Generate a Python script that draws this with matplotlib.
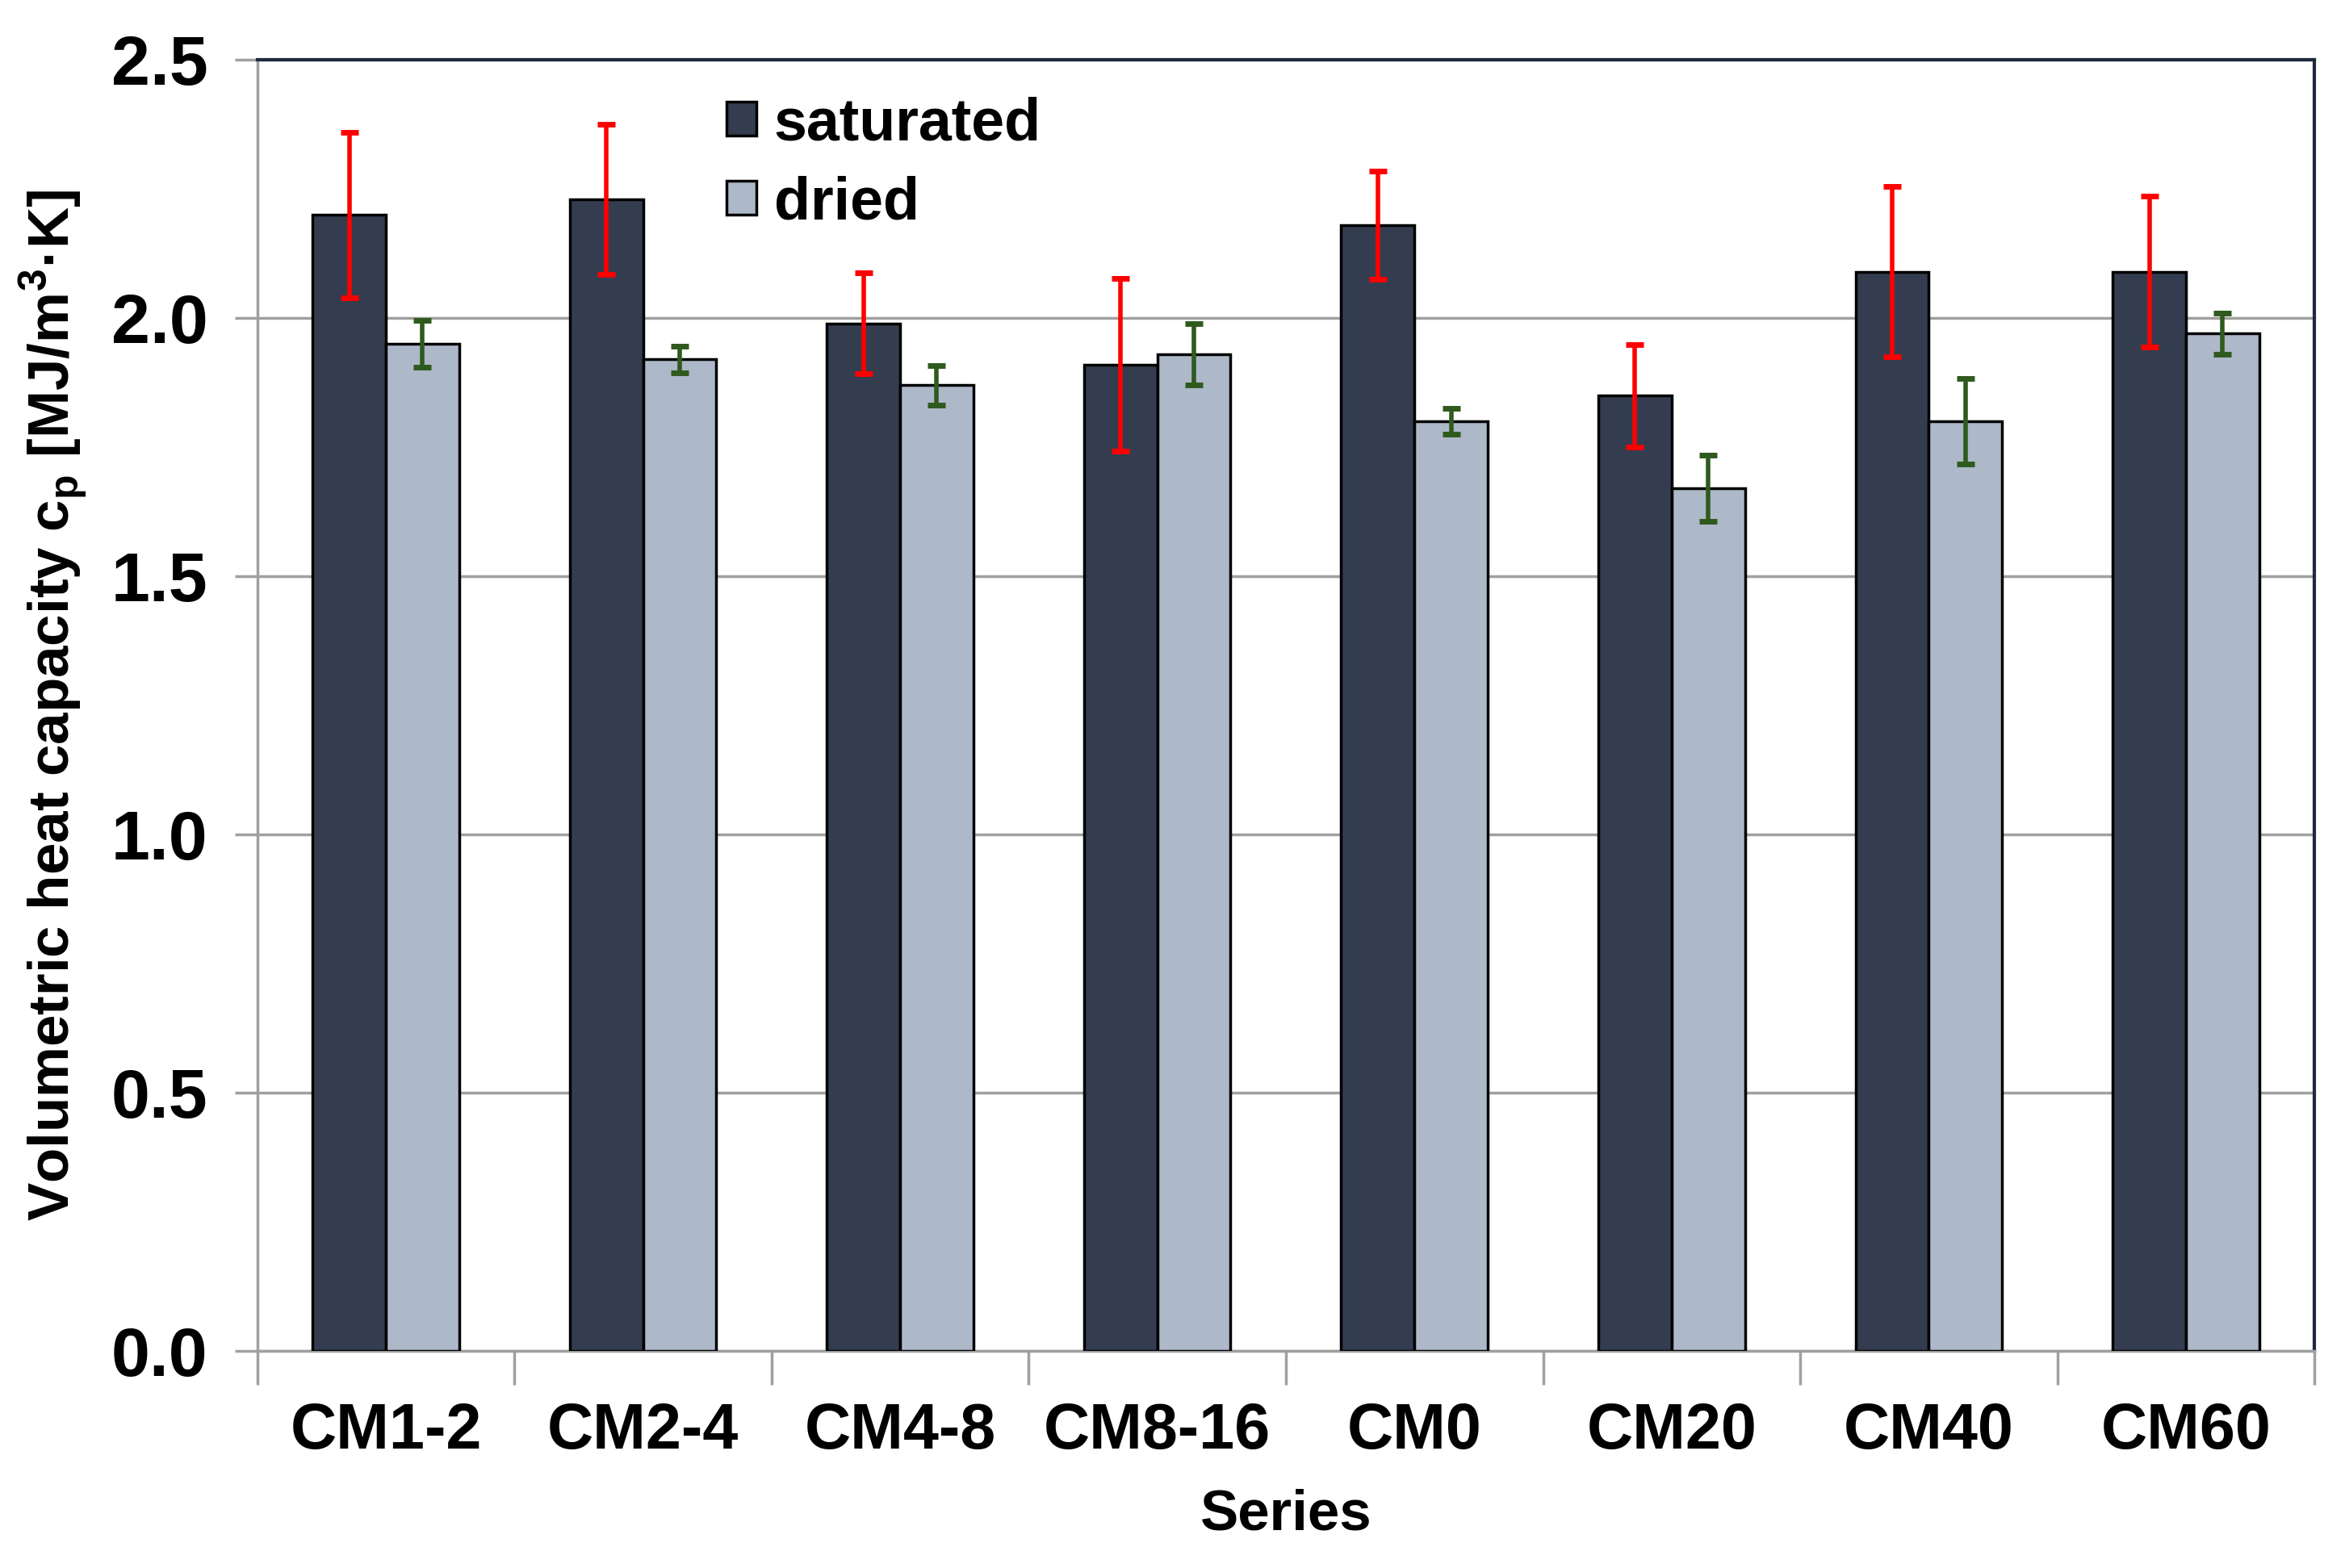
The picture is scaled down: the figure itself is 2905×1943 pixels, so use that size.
import matplotlib.pyplot as plt
import numpy as np

categories = ["CM1-2", "CM2-4", "CM4-8", "CM8-16", "CM0", "CM20", "CM40", "CM60"]
saturated = [2.20, 2.23, 1.99, 1.91, 2.18, 1.85, 2.09, 2.09]
saturated_err = [0.16, 0.145, 0.098, 0.167, 0.104, 0.099, 0.165, 0.146]
dried = [1.95, 1.92, 1.87, 1.93, 1.80, 1.67, 1.80, 1.97]
dried_err = [0.045, 0.026, 0.038, 0.06, 0.025, 0.064, 0.083, 0.04]
y_ticks = [0.0, 0.5, 1.0, 1.5, 2.0, 2.5]

plt.rcParams["font.family"] = ["Liberation Sans", "DejaVu Sans"]
plt.rcParams["font.weight"] = "bold"

SAT_COLOR = "#333d4f"
DRY_COLOR = "#adb8c9"
GRID = "#a0a0a0"

fig = plt.figure(figsize=(29.05, 19.43), dpi=100)
ax = fig.add_axes([0.1097, 0.1384, 0.8773, 0.8234])

x = np.arange(len(categories))
width = 0.285

ax.bar(x - width / 2, saturated, width, color=SAT_COLOR, edgecolor="black",
       linewidth=2.5, label="saturated", zorder=3)
ax.bar(x + width / 2, dried, width, color=DRY_COLOR, edgecolor="black",
       linewidth=2.5, label="dried", zorder=3)
ax.errorbar(x - width / 2, saturated, yerr=saturated_err, fmt="none",
            ecolor="#ff0000", elinewidth=4, capsize=8, capthick=5, zorder=4)
ax.errorbar(x + width / 2, dried, yerr=dried_err, fmt="none",
            ecolor="#2f5a1e", elinewidth=4, capsize=8, capthick=5, zorder=4)

ax.set_xlim(-0.5, len(categories) - 0.5)
ax.set_ylim(0, 2.5)
ax.set_yticks(y_ticks)
ax.set_yticklabels([f"{t:.1f}" for t in y_ticks], fontsize=62, fontweight="bold")
ax.yaxis.grid(True, color=GRID, linewidth=2.5, zorder=0)

# category ticks at group boundaries, labels centred
ax.set_xticks(np.arange(len(categories) + 1) - 0.5)
ax.set_xticklabels([])
ax.set_xticks(x, minor=True)
ax.set_xticklabels(categories, minor=True, fontsize=57, fontweight="bold")
ax.tick_params(axis="x", which="major", length=30, width=2.5, color=GRID, direction="out")
ax.tick_params(axis="x", which="minor", length=0, pad=45)
ax.tick_params(axis="y", length=20, width=2.5, color=GRID, direction="out", pad=24)

for side in ["left", "bottom"]:
    ax.spines[side].set_color(GRID)
    ax.spines[side].set_linewidth(2.5)
for side in ["top", "right"]:
    ax.spines[side].set_color("#1f2a3c")
    ax.spines[side].set_linewidth(3)

ax.set_xlabel("Series", fontsize=51, fontweight="bold", labelpad=24)
ax.set_ylabel("Volumetric heat capacity c$_\\mathregular{p}$ [MJ/m$^\\mathregular{3}$·K]",
              fontsize=51, fontweight="bold", labelpad=20)

ax.legend(loc="upper left", bbox_to_anchor=(0.228, 0.972), frameon=False,
          fontsize=53, handlelength=0.5, handleheight=0.5, handletextpad=0.3,
          labelspacing=0.4, borderaxespad=0, borderpad=0)

fig.savefig("out.png", dpi=100)
